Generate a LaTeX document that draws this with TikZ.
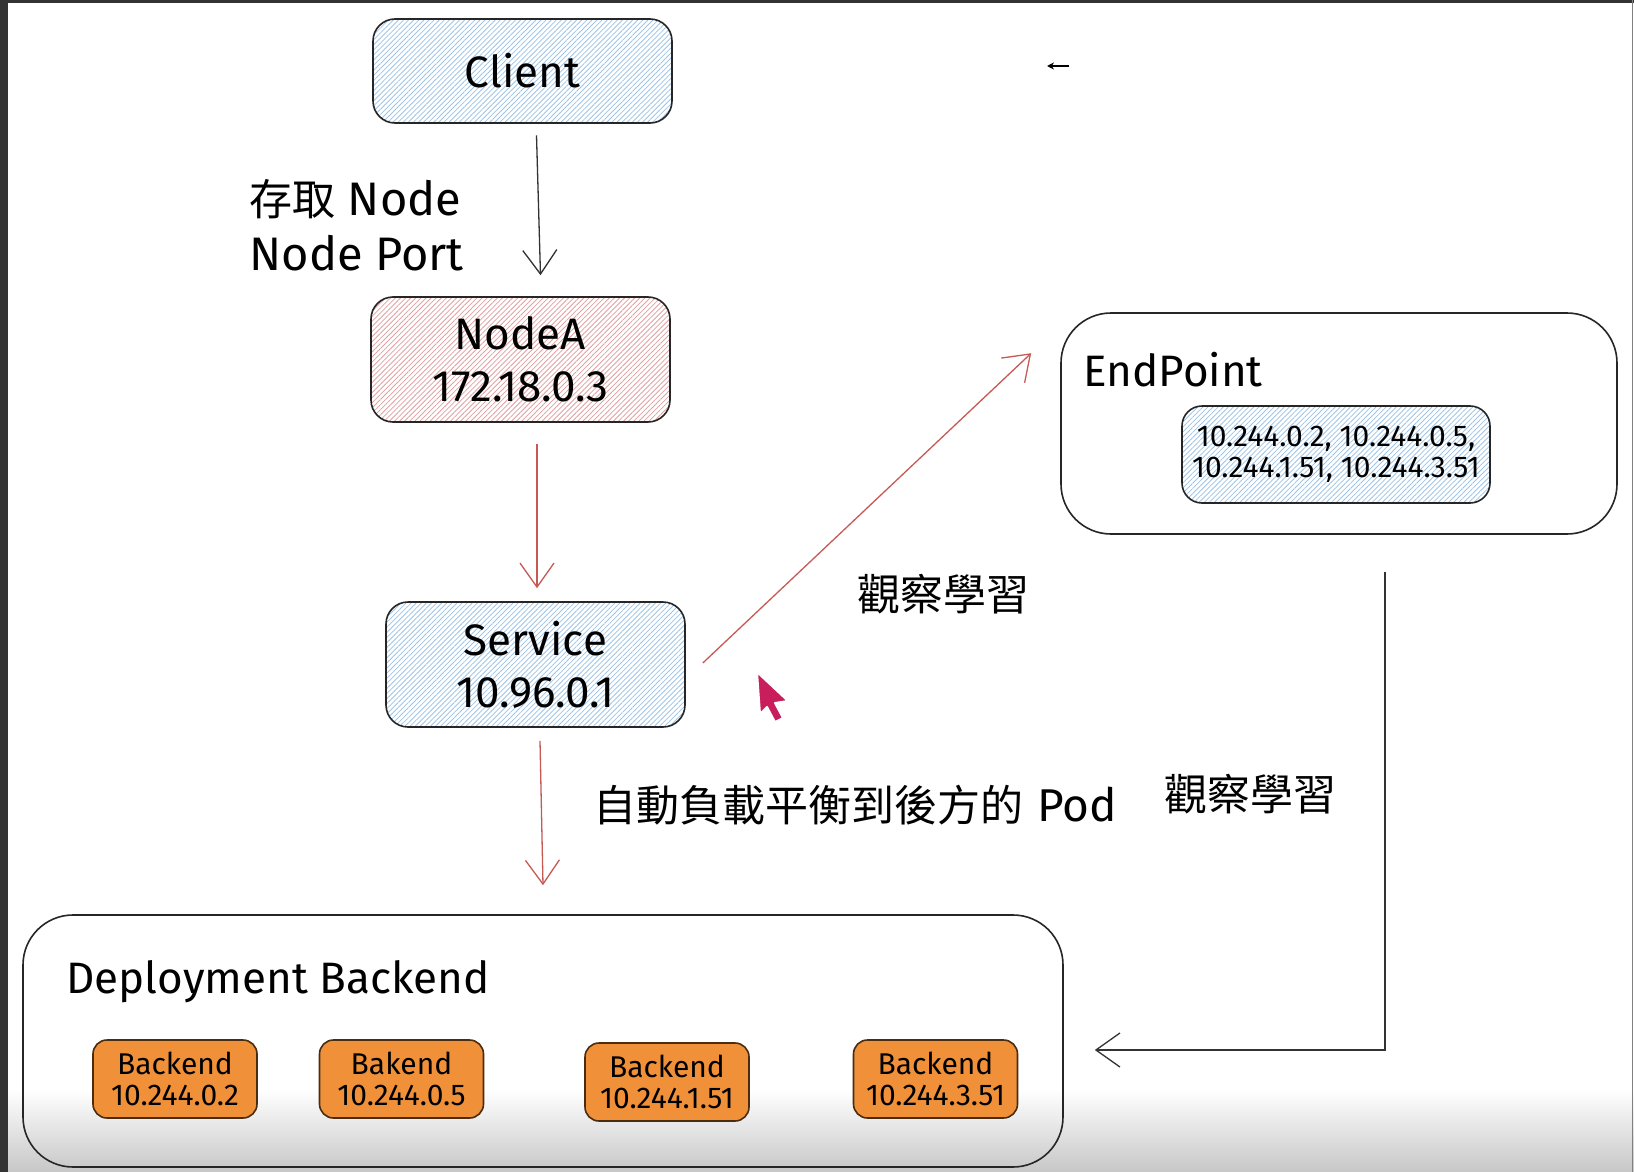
\documentclass[tikz,border=0pt]{standalone}
\usepackage{fontspec}
\setmainfont{Fira Sans}
\newfontfamily\cjk{Noto Sans CJK TC}
\usetikzlibrary{arrows.meta,patterns.meta}
\definecolor{hatchblue}{HTML}{9EC4E8}
\definecolor{hatchred}{HTML}{E2A0A0}
\definecolor{arrred}{HTML}{C55A55}
\definecolor{podorange}{HTML}{F0913A}
\definecolor{podedge}{HTML}{4A2C10}
\definecolor{pointer}{HTML}{C81E5C}

\begin{document}
\begin{tikzpicture}[x=1pt,y=-1pt,
    box/.style={draw=black!85, line width=1.6pt, rounded corners=22pt, minimum width=299pt,
        minimum height=125pt, align=center, font=\fontsize{44}{52}\selectfont},
    bluebox/.style={box, pattern={Lines[angle=45,distance=3.6pt,line width=0.8pt]}, pattern color=hatchblue},
    redbox/.style={box, pattern={Lines[angle=45,distance=3.6pt,line width=0.8pt]}, pattern color=hatchred},
    bigbox/.style={draw=black!85, line width=1.6pt, rounded corners=50pt},
    pod/.style={draw=podedge, fill=podorange, line width=1.6pt, rounded corners=14pt,
        minimum width=164pt, minimum height=78pt, align=center, font=\fontsize{30}{31}\selectfont},
    blkarrow/.style={draw=black!80, line width=1.3pt, -{Straight Barb[length=24pt,width=34pt]}},
    redarrow/.style={draw=arrred, line width=1.3pt, -{Straight Barb[length=24pt,width=34pt]}},
    lbl/.style={font=\fontsize{44}{55}\selectfont, align=left},
    zh/.style={font=\cjk\fontsize{43}{52}\selectfont}
]
\useasboundingbox (0,0) rectangle (1634,1172);
% screen edges and bottom shade
\fill[white] (0,0) rectangle (1634,1172);
\shade[top color=white, bottom color=black!22] (0,1090) rectangle (1634,1172);
\fill[black!80] (0,0) rectangle (8,1172);
\fill[black!80] (0,0) rectangle (1634,3);
\draw[black!50, line width=1pt] (1632,0) -- (1632,1172);

% boxes
\draw (522.5,71) node[bluebox, minimum height=104pt](client) {Client};
\draw (520.5,359.5) node[redbox](nodea) {NodeA\\172.18.0.3};
\draw (535.5,664.5) node[bluebox](svc) {Service\\10.96.0.1};
\draw (1339,423.5) node[bigbox, minimum width=556pt, minimum height=221pt](ep) {};
\draw (1080,370) node[lbl, anchor=west](eplbl) {EndPoint};
\draw (1336,454.5) node[bluebox, rounded corners=20pt, minimum width=308pt, minimum height=97pt,
    inner sep=2pt, font=\fontsize{30}{31}\selectfont](ips) {10.244.0.2, 10.244.0.5,\\10.244.1.51, 10.244.3.51};
\draw (543,1041) node[bigbox, minimum width=1040pt, minimum height=252pt](dep) {};
\draw (63,982) node[lbl, anchor=west](deplbl) {Deployment Backend};
\draw (175,1079) node[pod](b1) {Backend\\10.244.0.2};
\draw (401.5,1079) node[pod](b2) {Bakend\\10.244.0.5};
\draw (667,1082) node[pod](b3) {Backend\\10.244.1.51};
\draw (935.5,1079) node[pod](b4) {Backend\\10.244.3.51};

% texts
\draw (246,225) node[lbl, anchor=west, font=\fontsize{47}{55}\selectfont](access) {{\cjk\fontsize{43}{52}\selectfont 存取} Node\\Node Port};
\draw (943,594) node[zh](watch1) {觀察學習};
\draw (1250,794) node[zh](watch2) {觀察學習};
\draw (590,805) node[zh, anchor=west](balance) {自動負載平衡到後方的\hspace{14pt}{\rmfamily\fontsize{46}{52}\selectfont Pod}};

% connectors
\draw[blkarrow] ([xshift=14pt,yshift=-12pt]client.south) -- ([xshift=20pt,yshift=21pt]nodea.north);
\draw[redarrow] ([xshift=16.5pt,yshift=-21pt]nodea.south) -- ([xshift=1.5pt,yshift=13pt]svc.north);
\draw[redarrow] ([xshift=17pt,yshift=1.5pt]svc.east) -- ([xshift=-29pt,yshift=-41pt]ep.north west);
\draw[redarrow] ([xshift=4.5pt,yshift=-13pt]svc.south) -- ([yshift=29pt]dep.north);
\draw[blkarrow] ([xshift=46pt,yshift=-37pt]ep.south) |- ([xshift=31pt,yshift=-9pt]dep.east);

% small arrow top right
\coordinate (ta) at (1069,66);
\coordinate (tb) at (1047,66);
\draw[line width=1.4pt, -{Stealth[length=7pt,width=7pt]}] (ta) -- (tb);

% mouse pointer
\filldraw[fill=pointer, draw=white, line width=2pt, line join=round]
    (757,672) -- (788,701) -- (775,703) -- (783,718) -- (775,722) -- (767,707) -- (760,714) -- cycle;
\end{tikzpicture}
\end{document}
